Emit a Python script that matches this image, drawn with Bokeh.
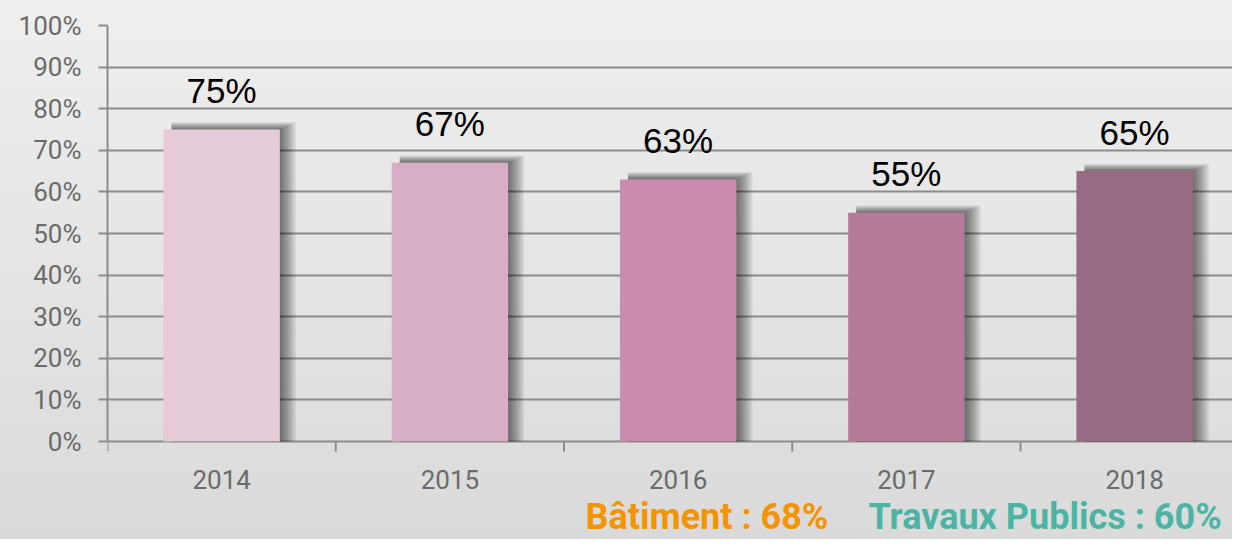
from bokeh.plotting import figure
from bokeh.models import Range1d, FixedTicker, Label
from bokeh.core.properties import value
from bokeh.embed import file_html
from bokeh.resources import INLINE

# ---- data ----
years = ["2014", "2015", "2016", "2017", "2018"]
rates = [75, 67, 63, 55, 65]
bar_colors = ["#E5CBDA", "#D8AEC6", "#CC8CB0", "#B47B98", "#986A84"]
y_ticks = [0, 10, 20, 30, 40, 50, 60, 70, 80, 90, 100]
footer_batiment = "Bâtiment : 68%"
footer_tp = "Travaux Publics : 60%"

# ---- layout constants ----
W, H = 1232, 539
LEFT, TOP = 107, 25
PLOT_H = 416          # pixels between 0% and 100%
CAT_W = 228.25        # pixels per category
frame_w = W - LEFT
frame_h = H - TOP
x_end = frame_w / CAT_W
xpx = 1.0 / CAT_W
ypx = 100.0 / PLOT_H
y_min = -(frame_h - PLOT_H) * ypx
bar_w = 0.51

p = figure(width=W, height=H, output_backend="svg", toolbar_location=None,
           x_range=Range1d(0, x_end), y_range=Range1d(y_min, 100),
           x_axis_location=None,
           min_border_left=LEFT, min_border_top=TOP, min_border_bottom=0,
           min_border_right=0)
p.styles = {"background": "linear-gradient(#efefef, #dadada)"}
p.background_fill_alpha = 0
p.border_fill_alpha = 0
p.outline_line_color = None
p.xgrid.visible = False

axis_col = "#8C8C8C"
lab_col = "#6B6B6B"

centers = [i + 0.5 for i in range(len(years))]
bounds_x = list(range(len(years) + 1))

# category boundary ticks below the baseline
p.segment(x0=bounds_x, y0=0, x1=bounds_x, y1=-10 * ypx, line_color=axis_col, line_width=2)

# shadows
for k in range(8):
    p.quad(left=[c - bar_w / 2 + 8 * xpx for c in centers],
           right=[c + bar_w / 2 + (2 * k + 2) * xpx for c in centers],
           top=[v + (k + 1) * 0.9 * ypx for v in rates],
           bottom=0, fill_color="black", fill_alpha=0.08, line_color=None)

# bars
p.vbar(x=centers, top=rates, width=bar_w, bottom=0, fill_color=bar_colors, line_color=None)

# data labels
p.text(x=centers, y=rates, text=[f"{v}%" for v in rates], text_align="center",
       text_baseline="alphabetic", y_offset=-39, text_font=value("Liberation Sans"),
       text_font_size="35px", text_color="black")

# category labels
p.text(x=centers, y=0, text=years, text_align="center", text_baseline="middle",
       y_offset=38, text_font=value("Roboto"), text_font_size="26px", text_color=lab_col)

# y axis
ya = p.yaxis[0]
ya.ticker = FixedTicker(ticks=y_ticks, minor_ticks=[])
ya.bounds = (0, 100)
ya.major_label_overrides = {t: f"{t}%" for t in y_ticks}
ya.major_tick_in = 0
ya.major_tick_out = 9
ya.major_tick_line_color = axis_col
ya.major_tick_line_width = 2
ya.axis_line_color = axis_col
ya.axis_line_width = 2
ya.major_label_standoff = 17
ya.major_label_text_font = "Roboto"
ya.major_label_text_font_size = "26px"
ya.major_label_text_color = lab_col

p.ygrid.ticker = FixedTicker(ticks=y_ticks)
p.ygrid.grid_line_color = axis_col
p.ygrid.grid_line_width = 2

# footer
foot_y = -(516 - (TOP + PLOT_H)) * ypx
p.add_layout(Label(x=(585 - LEFT) * xpx, y=foot_y, text=footer_batiment,
                   text_font="Roboto", text_font_style="bold", text_font_size="36px",
                   text_color="#F39400", text_baseline="alphabetic"))
p.add_layout(Label(x=(868 - LEFT) * xpx, y=foot_y, text=footer_tp,
                   text_font="Roboto", text_font_style="bold", text_font_size="36px",
                   text_color="#4BB4A5", text_baseline="alphabetic"))

open("out.html", "w").write(file_html(p, INLINE))
